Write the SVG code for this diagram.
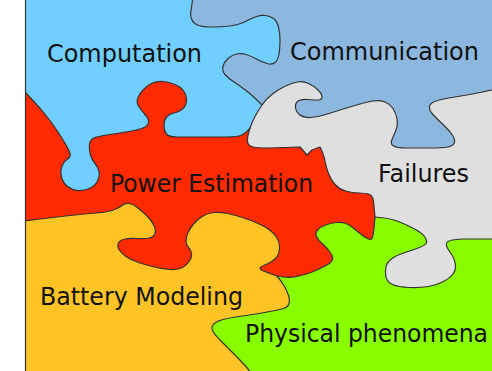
<svg xmlns="http://www.w3.org/2000/svg" width="492" height="371" viewBox="0 0 492 371">
  <defs>
    <clipPath id="frame">
      <rect x="25" y="0" width="467" height="371"/>
    </clipPath>
    <style>
      .piece { stroke: #333333; stroke-width: 1.2; stroke-linejoin: round; }
      .label { font-family: "DejaVu Sans", Verdana, sans-serif; font-size: 24px; fill: #111111; }
    </style>
  </defs>

  <rect x="0" y="0" width="492" height="371" fill="#ffffff"/>

  <g clip-path="url(#frame)">
    <!-- Computation: background piece -->
    <g id="computation">
      <rect x="25" y="0" width="467" height="371" fill="#70CFFF"/>
      <text class="label" x="47" y="61.5" textLength="155" lengthAdjust="spacingAndGlyphs">Computation</text>
    </g>

    <!-- Communication -->
    <g id="communication">
      <path class="piece" fill="#8CB7DE" d="M193,-5 Q192,5 191,10.5 Q190,16 192,20 Q194,24 198.5,25.5 Q203,27 210,27 Q217,27 224.5,26.5 Q232,26 237.5,24.5 Q243,23 247.5,20.5 Q252,18 256.5,16.5 Q261,15 265.5,15.5 Q270,16 273.5,18.5 Q277,21 278.5,27 Q280,33 280,40.5 Q280,48 279,54 Q278,60 275,62.5 Q272,65 267,63.5 Q262,62 256.5,59 Q251,56 246,54.5 Q241,53 236.5,54 Q232,55 228,58.5 Q224,62 223,66.5 Q222,71 225,74.5 Q228,78 234,82 Q240,86 246,90.5 Q252,95 262,105 L270,130 L400,172 L500,172 L500,-5 Z"/>
      <text class="label" x="290" y="59.5" textLength="189" lengthAdjust="spacingAndGlyphs">Communication</text>
    </g>

    <!-- Failures -->
    <g id="failures">
      <path class="piece" fill="#DFDFDF" d="M500,88 L480,92.5 Q468,95 455,97 Q442,99 436,101 Q430,103 429.5,106.5 Q429,110 432.5,114 Q436,118 442,123.5 Q448,129 452,134.5 Q456,140 454,143.5 Q452,147 444.5,147.5 Q437,148 426,148 Q415,148 406,148 Q397,148 393.5,146 Q390,144 392,139.5 Q394,135 396,130 Q398,125 397,119 Q396,113 393,108.5 Q390,104 385,102 Q380,100 373,101 Q366,102 353,106 Q340,110 329,113.5 Q318,117 311,117.5 Q304,118 300,115 Q296,112 295.5,107.5 Q295,103 298,101 Q301,99 307.5,99.5 Q314,100 318,100 Q322,100 322,97 Q322,94 318,90 Q314,86 308.5,83.5 Q303,81 297.5,82 Q292,83 285.5,86 Q279,89 272.5,94 Q266,99 262,105 Q258,111 255,116.5 Q252,122 250,128 L240,150 L300,210 L360,300 L500,300 Z"/>
      <text class="label" x="378" y="181.5" textLength="91" lengthAdjust="spacingAndGlyphs">Failures</text>
    </g>

    <!-- Power Estimation -->
    <g id="power-estimation">
      <path class="piece" fill="#FF2A00" d="M15,80 L20,86 Q25,92 32.5,100 Q40,108 46,115.5 Q52,123 57,130.5 Q62,138 65.5,144 Q69,150 70,153.5 Q71,157 67.5,159 Q64,161 62,166 Q60,171 61.5,177 Q63,183 67.5,186.5 Q72,190 78,190.5 Q84,191 89.5,188.5 Q95,186 97.5,181 Q100,176 99,171.5 Q98,167 95,163.5 Q92,160 90.5,155 Q89,150 89.5,144.5 Q90,139 95,137.5 Q100,136 110,134.5 Q120,133 129,131.5 Q138,130 143,128 Q148,126 148.5,122.5 Q149,119 145,114.5 Q141,110 138.5,106 Q136,102 138,97.5 Q140,93 144,89 Q148,85 152.5,83 Q157,81 163,81.5 Q169,82 175,84.5 Q181,87 184,91.5 Q187,96 186.5,101 Q186,106 182.5,109 Q179,112 174,113 Q169,114 166.5,117 Q164,120 164,125.5 Q164,131 166.5,134 Q169,137 177,137 Q185,137 200,137 Q215,137 226.5,137 Q238,137 242,135 Q246,133 250,128 Q247,137 247.5,141.5 Q248,146 253,147 Q258,148 269,148 L300,147 L307,155 L312,150 L320,147 Q324,155 325,161 Q326,167 328.5,173.5 Q331,180 335,184.5 Q339,189 345.5,191 Q352,193 359,193 Q366,193 369.5,194.5 Q373,196 373.5,201.5 Q374,207 375,217 L385,236 L360,300 L360,380 L15,380 Z"/>
      <text class="label" x="110" y="191.5" textLength="203" lengthAdjust="spacingAndGlyphs">Power Estimation</text>
    </g>

    <!-- Battery Modeling -->
    <g id="battery-modeling">
      <path class="piece" fill="#FEC426" d="M15,222 L40,219 Q55,217 70,215.5 Q85,214 96.5,213 Q108,212 113.5,210 Q119,208 122,205.5 Q125,203 129,203.5 Q133,204 138,208 Q143,212 147.5,216.5 Q152,221 154,225.5 Q156,230 155,233.5 Q154,237 149.5,238 Q145,239 137.5,238.5 Q130,238 125,239 Q120,240 118.5,243 Q117,246 119,249.5 Q121,253 126,256.5 Q131,260 138.5,262.5 Q146,265 154.5,267 Q163,269 170.5,269.5 Q178,270 182.5,267.5 Q187,265 189.5,261 Q192,257 191.5,253.5 Q191,250 188.5,247.5 Q186,245 186,241 Q186,237 188,232.5 Q190,228 194,223.5 Q198,219 203,216 Q208,213 214,212.5 Q220,212 227.5,213.5 Q235,215 242.5,217.5 Q250,220 257,223 Q264,226 269,229.5 Q274,233 277,238 Q280,243 279.5,249 Q279,255 275.5,258.5 Q272,262 267,264 Q262,266 260.5,267.5 Q259,269 262.5,270.5 Q266,272 277,276 L292,285 L300,380 L15,380 Z"/>
      <text class="label" x="40" y="305" textLength="203" lengthAdjust="spacingAndGlyphs">Battery Modeling</text>
    </g>

    <!-- Physical phenomena -->
    <g id="physical-phenomena">
      <path class="piece" fill="#88FD00" d="M500,239 L482.5,239 Q473,239 465.5,239 Q458,239 452.5,240 Q447,241 446.5,243.5 Q446,246 448,249 Q450,252 452.5,256 Q455,260 455.5,265 Q456,270 453,274 Q450,278 443.5,281.5 Q437,285 428.5,286.5 Q420,288 409,287.5 Q398,287 392.5,284.5 Q387,282 386,277 Q385,272 386,267 Q387,262 392,258.5 Q397,255 405,252.5 Q413,250 419.5,247.5 Q426,245 426.5,242.5 Q427,240 424.5,236.5 Q422,233 414.5,229 Q407,225 398.5,221.5 Q390,218 375,217 Q374,228 373.5,232.5 Q373,237 372,238.5 Q371,240 368.5,239 Q366,238 362,235 Q358,232 354,228.5 Q350,225 346,223.5 Q342,222 336.5,222.5 Q331,223 325.5,225 Q320,227 317.5,230 Q315,233 316.5,236.5 Q318,240 322.5,244 Q327,248 330,252 Q333,256 332.5,259 Q332,262 328.5,264 Q325,266 319,269 Q313,272 306.5,274 Q300,276 294,277 Q288,278 277,276 Q282,282 284.5,286.5 Q287,291 288.5,295.5 Q290,300 289,303.5 Q288,307 283.5,308.5 Q279,310 264.5,312.5 Q250,315 239,316.5 Q228,318 221.5,320 Q215,322 213,325 Q211,328 213,331.5 Q215,335 221,341 Q227,347 233.5,353.5 Q240,360 245,365.5 Q250,371 256,380 L500,380 Z"/>
      <text class="label" x="245" y="341.5" textLength="243" lengthAdjust="spacingAndGlyphs">Physical phenomena</text>
    </g>
  </g>

  <!-- left frame edge -->
  <line x1="25.5" y1="0" x2="25.5" y2="371" stroke="#333333" stroke-width="1.2"/>
</svg>
